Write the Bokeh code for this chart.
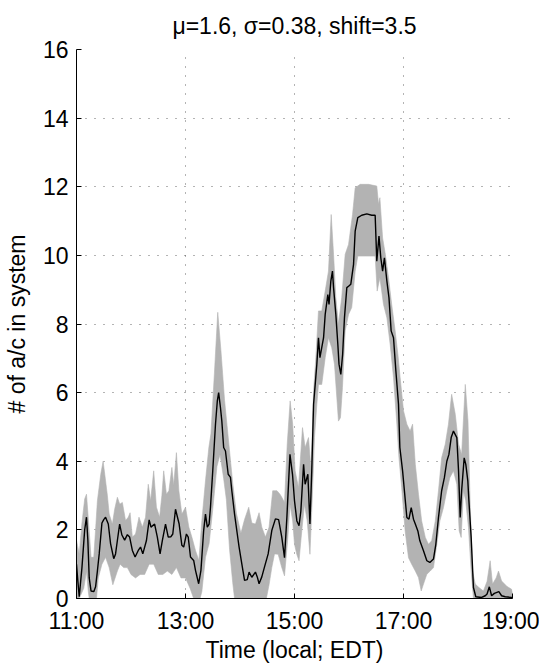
from bokeh.plotting import figure
from bokeh.models import Range1d, FixedTicker
from bokeh.embed import file_html
from bokeh.resources import INLINE

# ---- data (minutes after 11:00 local) ----
mean_t = [0, 1.5, 3, 6, 9, 11, 12.5, 14, 16, 19, 21, 23, 25, 28, 30, 32, 35, 37.5, 41, 43, 45, 47.5, 50, 53,
          56, 58.5, 61.5, 64.5, 68, 70.5, 73, 77, 80, 82, 86, 89, 92, 94.5, 98, 101, 104, 106, 109, 113, 116,
          118, 121, 123, 125.5, 129, 131, 134.5, 137, 140, 142, 144, 146, 147.5, 150, 153, 155, 156.5, 158.5,
          160, 162, 164, 167, 169.5, 171, 174, 177, 179, 182, 185, 188, 190, 193, 197, 199, 201, 204, 207, 211,
          215, 219, 222.5, 226, 229, 231.6, 235, 237.8, 240, 242.6, 245, 247, 250, 251.7, 254.7, 257, 259, 261,
          262.8, 264.6, 266.4, 268, 270, 272, 273.8, 276.7, 278, 280, 281.8, 283, 285.5, 287.7, 289, 291, 293,
          295, 297.6, 299.5, 302, 305, 306.8, 309.7, 314, 319.6, 325, 328.8, 330.6, 333, 335, 337, 339, 341.7,
          344, 346.4, 349, 351.6, 354.5, 356, 359, 361, 363.7, 366, 368.5, 371, 373, 375.8, 378, 382, 385.7,
          389, 393, 395.6, 398.5, 402, 405, 407.7, 410, 412.5, 415, 418.7, 420.6, 422.4, 424, 426.8, 428.6,
          430.8, 432, 434.5, 437, 439.6, 446, 450, 452, 454.5, 457, 460, 465, 468, 472, 479, 480]
mean_v = [1.0, 0.5, 0.05, 0.9, 2.0, 2.37, 1.7, 0.6, 0.22, 0.2, 0.34, 0.8, 1.3, 2.2, 2.3, 2.37, 2.17, 1.6, 1.16,
          1.3, 1.69, 2.17, 1.85, 1.7, 1.86, 1.79, 1.4, 1.21, 1.4, 1.5, 1.3, 1.69, 2.29, 2.08, 2.17, 1.79, 1.3,
          1.69, 2.17, 1.79, 1.8, 1.88, 2.6, 2.17, 1.55, 1.5, 1.88, 1.79, 1.21, 1.11, 0.82, 0.43, 0.82, 1.98,
          2.46, 2.08, 2.17, 2.66, 3.72, 5.07, 5.75, 6.0, 5.56, 5.17, 4.4, 4.3, 3.62, 3.53, 3.14, 2.46, 1.88, 1.5,
          1.01, 0.53, 0.55, 0.77, 0.62, 0.77, 0.63, 0.43, 0.63, 0.92, 1.3, 1.98, 2.32, 2.3, 1.79, 1.19, 2.36,
          4.2, 3.62, 2.85, 2.26, 2.12, 2.55, 3.91, 3.33, 3.62, 2.17, 3.72, 5.66, 6.24, 6.83, 7.6, 7.02, 7.31,
          7.6, 8.28, 8.86, 8.57, 9.25, 9.54, 9.06, 8.28, 7.41, 6.83, 6.53, 7.12, 8.18, 9.06, 9.1, 9.16, 9.74,
          10.71, 11.1, 11.17, 11.21, 11.17, 11.17, 9.83, 10.56, 9.93, 9.54, 9.93, 9.25, 8.77, 7.8, 7.6, 6.63,
          5.66, 4.4, 3.72, 3.14, 2.36, 2.31, 2.65, 2.31, 2.17, 1.97, 1.68, 1.39, 1.1, 1.05, 1.15, 1.58, 2.36,
          3.14, 3.52, 4.0, 4.2, 4.69, 4.88, 4.69, 3.72, 2.36, 3.14, 4.1, 3.91, 3.43, 2.85, 1.78, 0.32, 0.05,
          0.03, 0.08, 0.13, 0.34, 0.08, 0.15, 0.2, 0.08, 0.05, 0.03, 0.03]

upper_t = [0, 3, 6, 9, 11, 13.9, 16, 19, 21, 23, 26.7, 29.3, 32, 34, 36, 39.5, 42, 45, 47.6, 50.5, 54, 57, 59,
           61.5, 65, 68.8, 72.5, 76, 79, 81.6, 85, 88, 91.5, 94, 96, 99, 101.7, 105, 107, 110, 112.7, 116, 120,
           123.7, 127, 131, 134.7, 138, 142, 145.7, 148, 151.8, 155.5, 159, 163, 168.5, 172, 176, 181, 185,
           189.6, 193, 197, 201, 204, 208, 212, 216, 220.7, 224, 226, 229, 232, 235.2, 238, 240.7, 244.4, 248.8,
           251.7, 255.4, 258.3, 261, 263.5, 266.4, 270, 273.8, 277.4, 280.4, 283, 285.5, 288.4, 292, 295.8,
           299.5, 303.9, 306.8, 312.3, 321.5, 330.6, 332.5, 334, 337, 340, 343.5, 347, 350.8, 353.8, 356.3,
           360, 363.7, 367.3, 370, 373, 376.5, 380, 384, 387.5, 391, 395, 398.5, 402, 406, 409.5, 413, 417,
           420.6, 424, 428, 431, 433.4, 436, 439, 443, 448, 452, 455.4, 458, 462, 464.6, 468, 474, 479, 480]
upper_v = [1.7, 1.3, 2.2, 2.9, 3.04, 2.0, 1.2, 1.2, 2.0, 2.85, 3.62, 4.0, 3.43, 3.0, 2.46, 2.17, 2.6, 2.95,
           2.75, 2.8, 2.27, 2.37, 2.5, 1.79, 1.88, 2.37, 2.08, 2.37, 3.33, 2.85, 3.72, 2.66, 2.37, 3.0, 3.72,
           3.04, 3.14, 3.82, 3.3, 4.25, 3.14, 2.46, 2.66, 2.08, 1.79, 1.4, 1.11, 2.27, 3.43, 4.4, 4.8, 6.55,
           8.34, 7.23, 5.78, 4.3, 3.36, 2.49, 1.9, 2.3, 2.66, 2.2, 2.17, 2.5, 2.08, 1.79, 2.08, 3.14, 3.14, 3.04,
           2.95, 2.8, 4.5, 5.76, 5.08, 3.72, 3.23, 4.98, 4.4, 4.69, 3.72, 6.05, 7.02, 8.38, 8.38, 8.96, 9.54,
           11.19, 10.03, 8.77, 8.0, 8.77, 10.03, 10.32, 11.19, 11.97, 12.07, 12.07, 12.02, 11.49, 11.68, 10.51,
           10.03, 9.35, 8.57, 7.8, 7.12, 6.44, 5.47, 5.08, 4.88, 5.08, 3.91, 3.04, 2.26, 1.78, 1.58, 1.68, 2.26,
           3.14, 4.1, 4.5, 5.08, 5.95, 5.37, 4.5, 4.2, 6.24, 5.17, 2.75, 0.8, 0.42, 0.32, 0.22, 0.5, 1.1, 0.42,
           0.6, 0.8, 0.51, 0.35, 0.27, 0.17]

lower_t = [0, 3, 8, 11, 13, 14, 22, 24, 28, 32, 36, 40, 45, 48, 52, 56, 60, 65, 70, 75, 80, 85, 90, 95, 100,
           105, 110, 115, 120, 125, 129, 136, 138, 142, 146, 150, 154.6, 158, 162, 165, 168.5, 172, 174, 209,
           212, 215, 218, 222, 226, 229, 232.7, 235, 238, 240, 242.5, 245, 248, 251, 254, 257, 260, 262, 264.6,
           266.4, 270, 273.8, 277.4, 281, 284, 286.6, 288.4, 290.6, 292.8, 295.8, 299.5, 303, 306.8, 309.7,
           317.8, 328.8, 331, 334, 338, 341.7, 345.3, 349, 352.7, 355, 358, 361.8, 365.5, 369, 373, 376.5,
           379.5, 382, 385.7, 389.4, 393, 396.7, 400, 404, 407.7, 411, 415, 418.7, 421.3, 423.5, 426, 428.5,
           431.5, 434.5, 437, 480]
lower_v = [0.0, 0.0, 0.3, 0.8, 0.2, 0.0, 0.0, 0.6, 1.0, 1.2, 0.9, 0.4, 0.8, 1.0, 0.9, 0.9, 0.7, 0.6, 0.7, 0.7,
           1.0, 1.0, 0.7, 0.7, 0.8, 0.7, 0.9, 0.6, 0.6, 0.3, 0.0, 0.0, 0.2, 1.2, 1.6, 2.6, 3.85, 4.2, 3.5, 2.88,
           1.43, 0.46, 0.0, 0.0, 0.4, 0.9, 1.3, 1.29, 0.9, 0.66, 1.78, 2.75, 2.26, 1.58, 1.29, 1.1, 1.97, 2.75,
           2.26, 1.29, 3.23, 4.69, 5.66, 6.24, 6.24, 7.02, 7.6, 7.31, 6.83, 5.85, 5.17, 5.27, 6.15, 7.8, 8.28,
           8.48, 9.54, 9.98, 9.98, 9.98, 8.96, 9.35, 8.57, 8.18, 7.41, 6.44, 5.08, 4.1, 3.23, 1.97, 1.19, 1.0,
           0.8, 0.61, 0.22, 0.42, 0.71, 0.8, 0.9, 1.58, 2.26, 2.65, 3.14, 3.52, 3.72, 3.33, 1.97, 1.78, 3.14,
           2.85, 2.07, 0.8, 0.0, 0.0]

x_ticks = [11, 13, 15, 17, 19]
x_tick_labels = ["11:00", "13:00", "15:00", "17:00", "19:00"]
y_ticks = [0, 2, 4, 6, 8, 10, 12, 14, 16]

title_text = "\u03bc=1.6, \u03c3=0.38, shift=3.5"
FONT = "Liberation Sans"


def hours(ts):
    return [11 + t / 60.0 for t in ts]


p = figure(frame_width=436, frame_height=549,
           min_border_left=70, min_border_right=27, min_border_top=49, min_border_bottom=66,
           x_range=Range1d(11, 19), y_range=Range1d(0, 16),
           output_backend="svg", toolbar_location=None, title=title_text)
p.background_fill_color = "white"
p.border_fill_color = "white"
p.outline_line_color = None

# band (min/max envelope)
band_x = hours(upper_t) + hours(lower_t)[::-1]
band_y = upper_v + lower_v[::-1]
p.patch(band_x, band_y, fill_color="#b3b3b3", line_color="#b3b3b3", line_width=0.6)

# mean line
p.line(hours(mean_t), mean_v, line_color="black", line_width=1.4)

# title
p.title.align = "center"
p.title.vertical_align = "top"
p.title.text_font = FONT
p.title.text_font_size = "23px"
p.title.text_font_style = "normal"
p.title.text_color = "black"
p.title.standoff = 18

# axes
for ax in (p.xaxis[0], p.yaxis[0]):
    ax.major_label_text_font = FONT
    ax.major_label_text_font_size = "23px"
    ax.major_label_text_color = "black"
    ax.axis_label_text_font = FONT
    ax.axis_label_text_font_size = "23px"
    ax.axis_label_text_font_style = "normal"
    ax.axis_label_text_color = "black"
    ax.axis_line_color = "black"
    ax.major_tick_line_color = "black"
    ax.major_tick_in = 5
    ax.major_tick_out = 0
    ax.minor_tick_line_color = None

p.xaxis[0].ticker = FixedTicker(ticks=x_ticks)
p.xaxis[0].major_label_overrides = {k: v for k, v in zip(x_ticks, x_tick_labels)}
p.xaxis[0].axis_label = "Time (local; EDT)"
p.xaxis[0].major_label_standoff = 9
p.xaxis[0].axis_label_standoff = 0

p.yaxis[0].ticker = FixedTicker(ticks=y_ticks)
p.yaxis[0].axis_label = "# of a/c in system"
p.yaxis[0].major_label_standoff = 8
p.yaxis[0].axis_label_standoff = 10

# dotted grid
for g in (p.xgrid[0], p.ygrid[0]):
    g.grid_line_color = "#444444"
    g.grid_line_alpha = 0.8
    g.grid_line_dash = "1 8"
    g.grid_line_width = 1
p.xgrid[0].ticker = FixedTicker(ticks=x_ticks)
p.ygrid[0].ticker = FixedTicker(ticks=y_ticks)

open("out.html", "w").write(file_html(p, INLINE))
